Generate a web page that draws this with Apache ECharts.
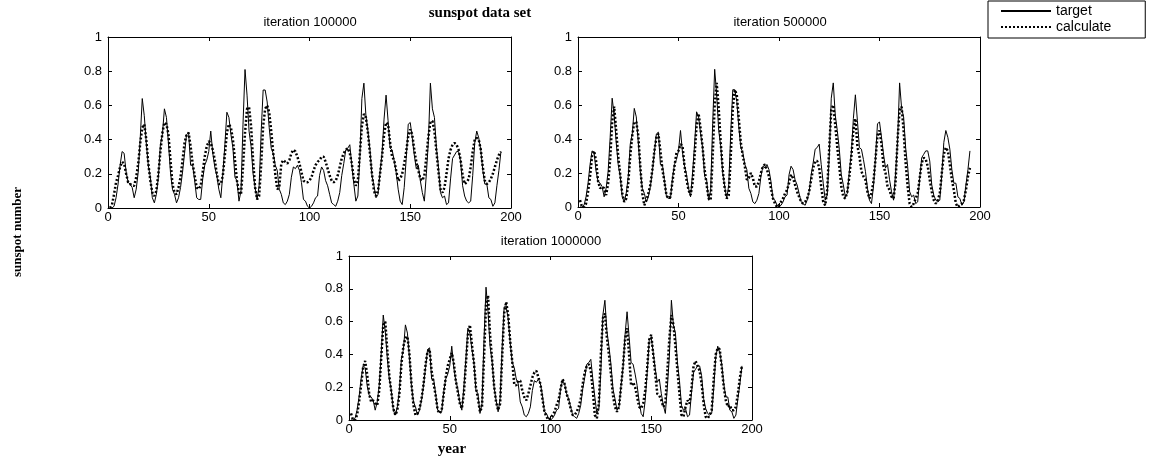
<!DOCTYPE html>
<html>
<head>
<meta charset="utf-8">
<script src="https://cdn.jsdelivr.net/npm/echarts@6/dist/echarts.min.js"></script>
<style>html,body{margin:0;padding:0;background:#fff;}#c{width:1152px;height:463px;}</style>
</head>
<body>
<div id="c"></div>
<script>
// x position of the first sample (samples are 1 year apart)
const xStart = 1;
const target = [
0.00,0.00,0.01,0.06,0.14,0.25,0.33,0.32,0.21,0.15,
0.14,0.12,0.06,0.11,0.21,0.41,0.64,0.54,0.38,0.25,
0.18,0.06,0.03,0.08,0.18,0.37,0.43,0.58,0.53,0.38,
0.21,0.11,0.08,0.03,0.06,0.12,0.21,0.32,0.43,0.44,
0.25,0.25,0.16,0.06,0.05,0.05,0.17,0.25,0.28,0.33,
0.45,0.32,0.24,0.19,0.11,0.06,0.20,0.37,0.56,0.53,
0.43,0.35,0.18,0.16,0.04,0.10,0.49,0.81,0.66,0.45,
0.36,0.20,0.12,0.05,0.13,0.44,0.69,0.69,0.62,0.47,
0.35,0.32,0.25,0.22,0.11,0.08,0.03,0.02,0.04,0.08,
0.18,0.24,0.23,0.25,0.22,0.15,0.05,0.04,0.01,0.00,
0.01,0.03,0.06,0.07,0.19,0.24,0.22,0.16,0.13,0.08,
0.03,0.02,0.01,0.04,0.09,0.19,0.26,0.34,0.35,0.37,
0.25,0.14,0.04,0.07,0.30,0.64,0.73,0.54,0.45,0.34,
0.19,0.13,0.06,0.08,0.21,0.32,0.52,0.66,0.51,0.35,
0.34,0.28,0.21,0.11,0.04,0.02,0.12,0.29,0.49,0.50,
0.41,0.31,0.23,0.25,0.16,0.09,0.04,0.20,0.39,0.73,
0.58,0.53,0.35,0.24,0.09,0.06,0.07,0.02,0.03,0.17,
0.29,0.31,0.33,0.33,0.27,0.13,0.07,0.04,0.03,0.04,
0.19,0.38,0.45,0.41,0.34,0.22,0.14,0.14,0.06,0.05,
0.01,0.03,0.13,0.22,0.33];
const calc100k = [
0.00,0.02,0.08,0.15,0.19,0.24,0.27,0.26,0.20,0.15,
0.14,0.13,0.13,0.18,0.26,0.38,0.47,0.49,0.40,0.26,
0.16,0.09,0.07,0.10,0.20,0.33,0.44,0.50,0.49,0.43,
0.28,0.14,0.09,0.08,0.12,0.18,0.28,0.38,0.43,0.44,
0.36,0.26,0.19,0.12,0.11,0.13,0.21,0.30,0.36,0.39,
0.38,0.34,0.28,0.20,0.14,0.14,0.19,0.31,0.44,0.49,
0.47,0.40,0.28,0.16,0.09,0.08,0.24,0.44,0.58,0.59,
0.48,0.28,0.12,0.05,0.07,0.25,0.48,0.58,0.60,0.56,
0.45,0.32,0.20,0.11,0.12,0.26,0.28,0.27,0.26,0.28,
0.32,0.34,0.33,0.30,0.26,0.21,0.16,0.15,0.15,0.16,
0.18,0.22,0.25,0.27,0.28,0.30,0.30,0.27,0.23,0.19,
0.16,0.15,0.16,0.19,0.24,0.29,0.32,0.34,0.35,0.32,
0.26,0.17,0.13,0.16,0.32,0.48,0.55,0.53,0.44,0.32,
0.20,0.10,0.07,0.10,0.20,0.30,0.43,0.50,0.49,0.38,
0.30,0.28,0.22,0.16,0.17,0.20,0.26,0.33,0.42,0.46,
0.43,0.34,0.27,0.22,0.17,0.16,0.19,0.30,0.42,0.50,
0.51,0.45,0.33,0.21,0.11,0.09,0.12,0.20,0.29,0.34,
0.37,0.38,0.37,0.34,0.28,0.19,0.14,0.15,0.17,0.24,
0.33,0.40,0.41,0.40,0.34,0.24,0.16,0.14,0.15,0.17,
0.20,0.24,0.28,0.31,0.33];
const calc500k = [
0.04,0.00,0.00,0.02,0.09,0.18,0.30,0.33,0.27,0.15,
0.11,0.12,0.11,0.07,0.14,0.28,0.50,0.59,0.45,0.30,
0.19,0.08,0.03,0.05,0.14,0.30,0.42,0.50,0.50,0.42,
0.24,0.08,0.01,0.04,0.08,0.13,0.22,0.33,0.41,0.43,
0.33,0.22,0.15,0.07,0.05,0.06,0.15,0.24,0.32,0.33,
0.37,0.36,0.24,0.16,0.10,0.07,0.14,0.30,0.48,0.55,
0.46,0.35,0.22,0.13,0.05,0.04,0.30,0.60,0.73,0.58,
0.38,0.22,0.11,0.05,0.07,0.30,0.58,0.69,0.66,0.52,
0.38,0.30,0.24,0.16,0.17,0.20,0.17,0.12,0.12,0.15,
0.20,0.24,0.25,0.22,0.18,0.11,0.05,0.02,0.00,0.01,
0.03,0.05,0.08,0.10,0.14,0.19,0.17,0.13,0.09,0.06,
0.03,0.02,0.03,0.05,0.09,0.16,0.23,0.27,0.27,0.23,
0.12,0.03,0.01,0.10,0.35,0.57,0.60,0.48,0.35,0.24,
0.12,0.06,0.05,0.09,0.18,0.30,0.45,0.52,0.36,0.30,
0.21,0.18,0.16,0.09,0.05,0.08,0.15,0.28,0.42,0.45,
0.37,0.24,0.20,0.12,0.10,0.06,0.05,0.15,0.40,0.57,
0.59,0.45,0.26,0.12,0.02,0.00,0.02,0.05,0.08,0.17,
0.26,0.29,0.28,0.24,0.16,0.09,0.04,0.02,0.04,0.08,
0.20,0.31,0.35,0.33,0.25,0.16,0.10,0.02,0.00,0.01,
0.02,0.04,0.10,0.18,0.23];
const calc1m = [
0.04,0.00,0.00,0.03,0.11,0.21,0.32,0.36,0.28,0.16,
0.11,0.12,0.10,0.09,0.18,0.38,0.58,0.60,0.43,0.27,
0.17,0.07,0.03,0.06,0.16,0.34,0.45,0.50,0.51,0.40,
0.22,0.09,0.03,0.04,0.07,0.13,0.22,0.34,0.42,0.43,
0.30,0.22,0.15,0.06,0.04,0.06,0.16,0.26,0.33,0.37,
0.41,0.35,0.24,0.17,0.10,0.07,0.16,0.34,0.52,0.58,
0.46,0.35,0.20,0.13,0.05,0.08,0.38,0.70,0.76,0.52,
0.37,0.21,0.11,0.06,0.10,0.38,0.65,0.72,0.64,0.48,
0.36,0.22,0.21,0.24,0.24,0.18,0.14,0.12,0.16,0.21,
0.26,0.29,0.30,0.26,0.22,0.13,0.05,0.02,0.00,0.01,
0.03,0.05,0.09,0.12,0.19,0.25,0.22,0.16,0.12,0.07,
0.03,0.03,0.05,0.08,0.13,0.22,0.29,0.33,0.34,0.30,
0.18,0.03,0.01,0.10,0.40,0.62,0.65,0.50,0.40,0.28,
0.15,0.08,0.05,0.08,0.20,0.33,0.49,0.56,0.40,0.21,
0.23,0.20,0.14,0.08,0.07,0.10,0.18,0.32,0.49,0.52,
0.40,0.28,0.16,0.15,0.12,0.08,0.10,0.30,0.50,0.64,
0.58,0.45,0.30,0.16,0.03,0.02,0.08,0.12,0.10,0.20,
0.33,0.36,0.33,0.30,0.22,0.10,0.02,0.01,0.03,0.06,
0.25,0.40,0.44,0.43,0.32,0.20,0.12,0.08,0.09,0.06,
0.06,0.08,0.16,0.26,0.33];
const panelTitles = ['iteration 100000', 'iteration 500000', 'iteration 1000000'];
const seriesNames = ['target', 'calculate'];
const mainTitle = 'sunspot data set';
const xTitle = 'year';
const yTitle = 'sunspot number';
const xMin = 0, xMax = 200, xStep = 50;
const yMin = 0, yMax = 1, yStep = 0.2;

const calcs = [calc100k, calc500k, calc1m];
const grids = [
  {left: 108, top: 37, width: 403, height: 171},
  {left: 578, top: 37, width: 402, height: 170},
  {left: 349, top: 256, width: 403, height: 164}
];
const SANS = 'Liberation Sans';
const SERIF = 'Liberation Serif';
const toPts = arr => arr.map((v, i) => [xStart + i, v]);

const xAxes = [], yAxes = [], series = [];
grids.forEach((g, gi) => {
  ['bottom', 'top'].forEach(pos => xAxes.push({
    type: 'value', gridIndex: gi, position: pos, min: xMin, max: xMax, interval: xStep,
    axisLine: {show: true, onZero: false, lineStyle: {color: '#000', width: 1}},
    axisTick: {show: true, inside: true, length: 4, lineStyle: {color: '#000'}},
    axisLabel: {show: pos === 'bottom', color: '#000', fontFamily: SANS, fontSize: 13, margin: 3},
    splitLine: {show: false}
  }));
  ['left', 'right'].forEach(pos => yAxes.push({
    type: 'value', gridIndex: gi, position: pos, min: yMin, max: yMax, interval: yStep,
    axisLine: {show: true, onZero: false, lineStyle: {color: '#000', width: 1}},
    axisTick: {show: true, inside: true, length: 4, lineStyle: {color: '#000'}},
    axisLabel: {show: pos === 'left', color: '#000', fontFamily: SANS, fontSize: 13, margin: 6},
    splitLine: {show: false}
  }));
  series.push({
    name: seriesNames[0], type: 'line', xAxisIndex: gi * 2, yAxisIndex: gi * 2,
    data: toPts(target), symbol: 'none', showSymbol: false,
    lineStyle: {color: '#000', width: 1}, itemStyle: {color: '#000'}, z: 3, animation: false
  });
  series.push({
    name: seriesNames[1], type: 'line', xAxisIndex: gi * 2, yAxisIndex: gi * 2,
    data: toPts(calcs[gi]), symbol: 'none', showSymbol: false,
    lineStyle: {color: '#000', width: 2.5, type: [2, 2]}, itemStyle: {color: '#000'}, z: 2, animation: false
  });
});

const texts = [
  {x: 310, y: 22, t: panelTitles[0], f: SANS, w: 'normal', s: 13},
  {x: 780, y: 22, t: panelTitles[1], f: SANS, w: 'normal', s: 13},
  {x: 551, y: 241, t: panelTitles[2], f: SANS, w: 'normal', s: 13},
  {x: 480, y: 13, t: mainTitle, f: SERIF, w: 'bold', s: 15},
  {x: 452, y: 449, t: xTitle, f: SERIF, w: 'bold', s: 15}
];
const graphic = texts.map(o => ({
  type: 'text', x: o.x, y: o.y, silent: true,
  style: {text: o.t, fill: '#000', font: o.w + ' ' + o.s + 'px "' + o.f + '"', textAlign: 'center', textVerticalAlign: 'middle'}
}));
graphic.push({
  type: 'text', x: 18, y: 232, rotation: Math.PI / 2, silent: true,
  style: {text: yTitle, fill: '#000', font: 'bold 13px "' + SERIF + '"', textAlign: 'center', textVerticalAlign: 'middle'}
});

const chart = echarts.init(document.getElementById('c'), null, {renderer: 'canvas'});
chart.setOption({
  backgroundColor: '#fff',
  animation: false,
  grid: grids.map(g => Object.assign({containLabel: false}, g)),
  xAxis: xAxes,
  yAxis: yAxes,
  series: series,
  legend: {
    data: seriesNames, orient: 'vertical', left: 988, top: 1,
    itemWidth: 50, itemHeight: 12, itemGap: 2, padding: [3, 34, 4, 12],
    borderColor: '#000', borderWidth: 1, backgroundColor: '#fff',
    textStyle: {color: '#000', fontFamily: SANS, fontSize: 14},
    itemStyle: {opacity: 0}
  },
  graphic: graphic
});
</script>
</body>
</html>
